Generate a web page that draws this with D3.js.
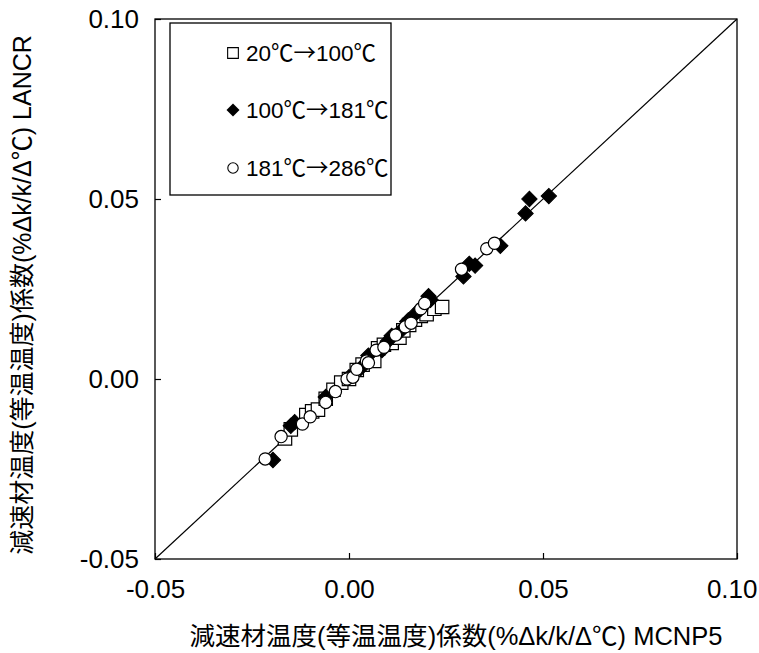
<!DOCTYPE html>
<html><head><meta charset="utf-8">
<script src="https://cdn.jsdelivr.net/npm/d3@7"></script>
<style>body{margin:0;background:#fff;} text{font-family:"Liberation Sans",Arial,"Noto Sans CJK JP",sans-serif;}</style>
</head><body>
<svg id="c" width="759" height="653"></svg>
<script>
const ticks = [-0.05, 0.00, 0.05, 0.10];
const tickLabels = ["-0.05", "0.00", "0.05", "0.10"];
const seriesNames = ["20℃→100℃", "100℃→181℃", "181℃→286℃"];
const xTitle = "減速材温度(等温温度)係数(%Δk/k/Δ℃) MCNP5";
const yTitle = "減速材温度(等温温度)係数(%Δk/k/Δ℃) LANCR";

const sq = [[-0.0165,-0.0165],[-0.0150,-0.0140],[-0.0110,-0.0100],[-0.0095,-0.0090],[-0.0080,-0.0085],[-0.0060,-0.0055],[-0.0040,-0.0030],[-0.0020,-0.0010],[0.0000,0.0000],[0.0020,0.0025],[0.0035,0.0040],[0.0065,0.0050],[0.0075,0.0085],[0.0090,0.0095],[0.0110,0.0100],[0.0130,0.0115],[0.0140,0.0135],[0.0155,0.0150],[0.0170,0.0165],[0.0185,0.0175],[0.0200,0.0180],[0.0220,0.0195],[0.0240,0.0200]];
const dm = [[-0.0196,-0.0225],[-0.0150,-0.0130],[-0.0140,-0.0120],[-0.0060,-0.0050],[0.0000,0.0005],[0.0030,0.0030],[0.0050,0.0065],[0.0085,0.0080],[0.0100,0.0105],[0.0110,0.0120],[0.0130,0.0130],[0.0150,0.0160],[0.0170,0.0180],[0.0185,0.0195],[0.0205,0.0230],[0.0210,0.0220],[0.0295,0.0285],[0.0310,0.0320],[0.0325,0.0315],[0.0390,0.0370],[0.0455,0.0460],[0.0465,0.0500],[0.0515,0.0508]];
const ci = [[-0.0216,-0.0222],[-0.0175,-0.0160],[-0.0120,-0.0125],[-0.0100,-0.0105],[-0.0060,-0.0065],[-0.0035,-0.0035],[-0.0005,0.0000],[0.0010,0.0005],[0.0020,0.0027],[0.0045,0.0050],[0.0050,0.0045],[0.0070,0.0080],[0.0090,0.0088],[0.0120,0.0122],[0.0145,0.0145],[0.0160,0.0155],[0.0185,0.0195],[0.0195,0.0210],[0.0290,0.0305],[0.0355,0.0362],[0.0375,0.0377]];

const L = 155, R = 737, T = 19, B = 559;
const CJK = '"Noto Sans CJK JP",sans-serif';
const LAT = '"Liberation Sans",Arial,sans-serif';
const svg = d3.select("#c");
const x = d3.scaleLinear().domain([-0.05, 0.10]).range([L, R]);
const y = d3.scaleLinear().domain([-0.05, 0.10]).range([B, T]);

function mixed(sel, str) {
  const parts = str.match(/[\u3000-\u9fff\uff00-\uffef℃→]+|[^\u3000-\u9fff\uff00-\uffef℃→]+/g);
  parts.forEach(p => {
    const cj = /[\u3000-\u9fff\uff00-\uffef℃→]/.test(p);
    sel.append("tspan").attr("font-family", cj ? CJK : LAT).text(p);
  });
}

svg.append("rect").attr("x", L).attr("y", T).attr("width", R - L).attr("height", B - T)
  .attr("fill", "none").attr("stroke", "#000").attr("stroke-width", 1.3);

const fmt = d => tickLabels[ticks.indexOf(d)];
const xa = svg.append("g").attr("transform", `translate(0,${B})`)
  .call(d3.axisBottom(x).tickValues(ticks).tickFormat(fmt).tickSizeInner(-6).tickSizeOuter(0).tickPadding(21));
const ya = svg.append("g").attr("transform", `translate(${L},0)`)
  .call(d3.axisLeft(y).tickValues(ticks).tickFormat(fmt).tickSizeInner(-6).tickSizeOuter(0).tickPadding(16));
[xa, ya].forEach(g => {
  g.select(".domain").remove();
  g.selectAll("line").attr("stroke", "#000").attr("stroke-width", 1.2);
  g.selectAll("text").attr("font-size", 26).attr("fill", "#000").attr("font-family", LAT);
});
xa.selectAll(".tick text").filter(d => d === 0.10).attr("text-anchor", "end").attr("x", 757 - R);

svg.append("line").attr("x1", x(-0.05)).attr("y1", y(-0.05)).attr("x2", x(0.10)).attr("y2", y(0.10))
  .attr("stroke", "#000").attr("stroke-width", 1.2);

const symSq = d3.symbol().type(d3.symbolSquare).size(180);
const symDm = d3.symbol().type(d3.symbolSquare).size(118);
const symCi = d3.symbol().type(d3.symbolCircle).size(118);

svg.append("g").selectAll("path").data(sq).join("path")
  .attr("d", symSq).attr("transform", d => `translate(${x(d[0])},${y(d[1])})`)
  .attr("fill", "#fff").attr("stroke", "#000").attr("stroke-width", 1.2);
svg.append("g").selectAll("path").data(dm).join("path")
  .attr("d", symDm).attr("transform", d => `translate(${x(d[0])},${y(d[1])}) rotate(45)`)
  .attr("fill", "#000").attr("stroke", "#000").attr("stroke-width", 1);
svg.append("g").selectAll("path").data(ci).join("path")
  .attr("d", symCi).attr("transform", d => `translate(${x(d[0])},${y(d[1])})`)
  .attr("fill", "#fff").attr("stroke", "#000").attr("stroke-width", 1.2);

const lg = svg.append("g");
lg.append("rect").attr("x", 170).attr("y", 23).attr("width", 221).attr("height", 172)
  .attr("fill", "#fff").attr("stroke", "#000").attr("stroke-width", 1.3);
const ly = [53, 110, 168];
const syms = [
  g => g.append("path").attr("d", d3.symbol().type(d3.symbolSquare).size(115)).attr("fill", "#fff").attr("stroke", "#000").attr("stroke-width", 1.1),
  g => g.append("path").attr("d", d3.symbol().type(d3.symbolSquare).size(85)).attr("transform", "rotate(45)").attr("fill", "#000"),
  g => g.append("path").attr("d", d3.symbol().type(d3.symbolCircle).size(85)).attr("fill", "#fff").attr("stroke", "#000").attr("stroke-width", 1.1)
];
seriesNames.forEach((n, i) => {
  const g = lg.append("g").attr("transform", `translate(233,${ly[i]})`);
  syms[i](g);
  const t = lg.append("text").attr("x", 246).attr("y", ly[i]).attr("dy", "0.36em")
    .attr("font-size", 22.5).attr("fill", "#000");
  mixed(t, n);
});

const xt = svg.append("text").attr("x", 456).attr("y", 645).attr("text-anchor", "middle")
  .attr("font-size", 25.5).attr("fill", "#000");
mixed(xt, xTitle);
const yt = svg.append("text").attr("transform", "translate(31,295) rotate(-90)").attr("text-anchor", "middle")
  .attr("font-size", 25).attr("fill", "#000");
mixed(yt, yTitle);
</script>
</body></html>
